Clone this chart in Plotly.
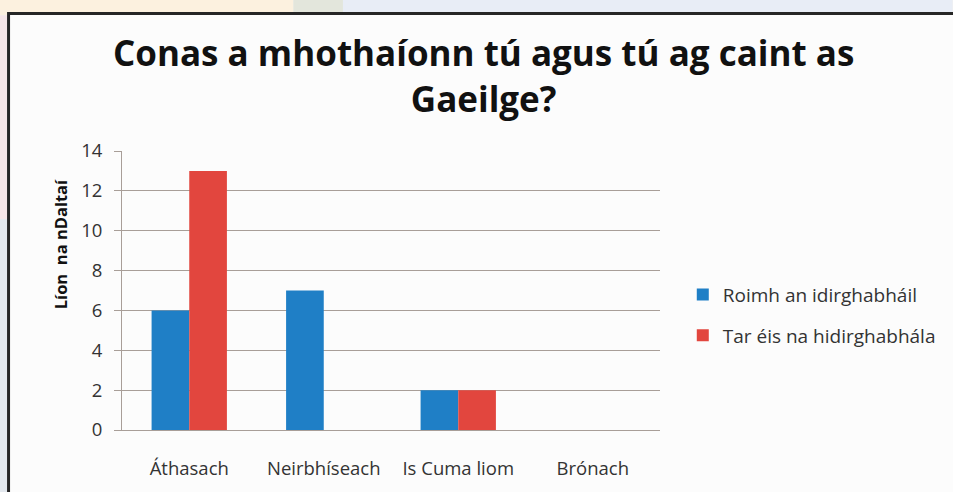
import plotly.graph_objects as go

categories = ["Áthasach", "Neirbhíseach", "Is Cuma liom", "Brónach"]
before_name = "Roimh an idirghabháil"
after_name = "Tar éis na hidirghabhála"
before_vals = [6, 7, 2, 0]
after_vals = [13, 0, 2, 0]
y_ticks = [0, 2, 4, 6, 8, 10, 12, 14]

title_text = "<b>Conas a mhothaíonn tú agus tú ag caint as<br>Gaeilge?</b>"
y_title = "<b>Líon  na nDaltaí</b>"

W, H = 953, 492
L, R, T, B = 122, 665, 151, 433


def px(x):
    return (x - L) / (R - L)


def py(y):
    return (B - y) / (B - T)


FONT = "Open Sans"

fig = go.Figure()
fig.add_trace(go.Bar(x=categories, y=before_vals, name=before_name, legendgroup="a",
                     marker=dict(color="#1f7fc6", line=dict(width=0))))
fig.add_trace(go.Bar(x=categories, y=after_vals, name=after_name, legendgroup="b",
                     marker=dict(color="#e2463e", line=dict(width=0))))

shapes = [
    # background decoration
    dict(type="rect", xref="paper", yref="paper", x0=px(-5), x1=px(295), y0=py(-5), y1=py(14),
         fillcolor="#fcf1df", line=dict(width=0), layer="below"),
    dict(type="rect", xref="paper", yref="paper", x0=px(295), x1=px(345), y0=py(-5), y1=py(14),
         fillcolor="#e3e6dc", line=dict(width=0), layer="below"),
    dict(type="rect", xref="paper", yref="paper", x0=px(345), x1=px(960), y0=py(-5), y1=py(14),
         fillcolor="#e8edf6", line=dict(width=0), layer="below"),
    dict(type="rect", xref="paper", yref="paper", x0=px(-5), x1=px(8), y0=py(14), y1=py(220),
         fillcolor="#f6e6e8", line=dict(width=0), layer="below"),
    dict(type="rect", xref="paper", yref="paper", x0=px(-5), x1=px(8), y0=py(220), y1=py(500),
         fillcolor="#e3e8ee", line=dict(width=0), layer="below"),
    # framed white panel
    dict(type="rect", xref="paper", yref="paper", x0=px(7.5), x1=px(970), y0=py(12), y1=py(520),
         fillcolor="#fcfcfc", line=dict(color="#262626", width=3), layer="below"),
]

fig.update_layout(
    width=W, height=H,
    margin=dict(l=L, r=W - R, t=T, b=H - B, pad=0),
    paper_bgcolor="#eef0f2",
    plot_bgcolor="rgba(0,0,0,0)",
    barmode="group",
    bargap=0.44,
    bargroupgap=0,
    font=dict(family=FONT, color="#404040", size=16),
    showlegend=True,
    legend=dict(x=px(688), xanchor="left", y=py(317), yanchor="middle",
                xref="paper", yref="paper", traceorder="grouped",
                font=dict(family=FONT, size=19, color="#333333"),
                bgcolor="rgba(0,0,0,0)", tracegroupgap=13, itemwidth=30),
    shapes=shapes,
    annotations=[
        dict(text=title_text, x=px(487), y=py(75), xref="paper", yref="paper",
             xanchor="center", yanchor="middle", showarrow=False,
             font=dict(family=FONT, size=35, color="#111111")),
        dict(text=y_title, x=px(46), y=py(245), xref="paper", yref="paper",
             textangle=-90, showarrow=False,
             font=dict(family=FONT, size=16.5, color="#111111")),
    ],
)

fig.update_yaxes(range=[0, 14], tickvals=y_ticks, showgrid=True, gridcolor="#a89e98",
                 gridwidth=1, showline=True, linecolor="#a89e98", linewidth=1,
                 ticks="outside", ticklen=7, tickcolor="#a89e98",
                 tickfont=dict(family=FONT, size=18.5, color="#333333"),
                 ticklabelstandoff=8, zeroline=False)
fig.update_xaxes(showline=True, linecolor="#a89e98", linewidth=1, ticks="",
                 tickfont=dict(family=FONT, size=18.5, color="#333333"),
                 ticklabelstandoff=22)

fig.write_html("out.html", config={"displayModeBar": False},
               post_script="document.body.style.margin='0px';")
